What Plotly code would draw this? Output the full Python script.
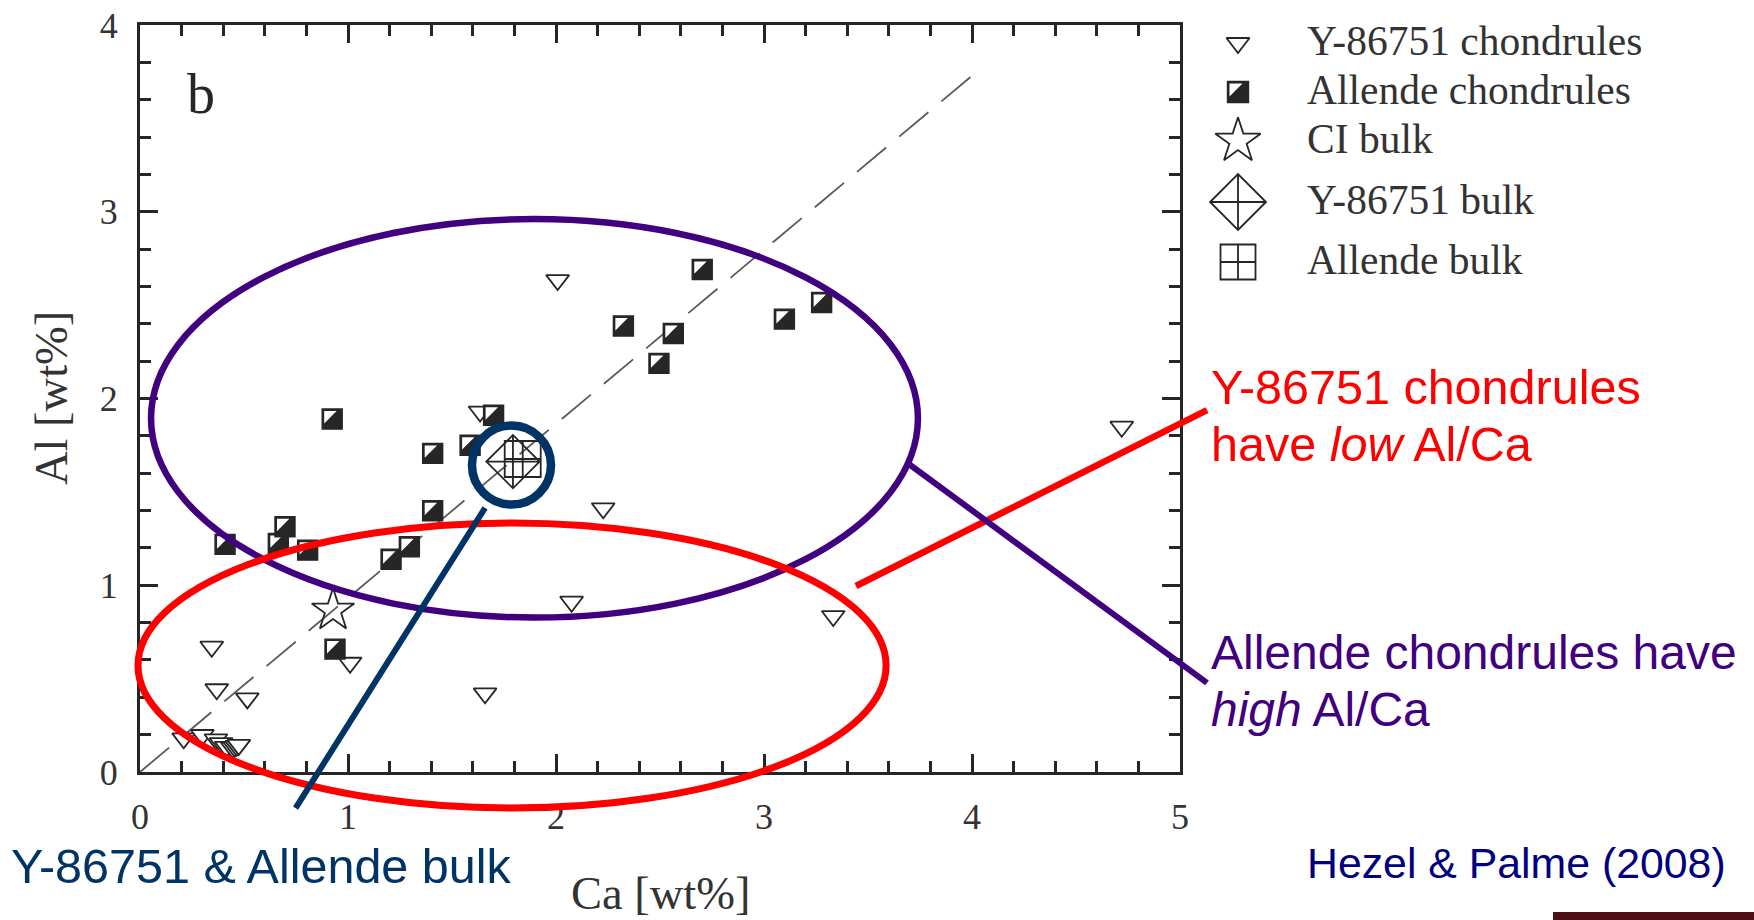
import plotly.graph_objects as go

# ---------------- data: Ca vs Al contents [wt%] ----------------
y86751_ca = [0.21, 0.30, 0.365, 0.39, 0.415, 0.445, 0.455, 0.465, 0.475,
             0.345, 0.369, 0.516, 1.01, 1.659, 2.075, 2.227, 1.635, 2.008,
             3.333, 4.72]
y86751_al = [0.18, 0.198, 0.175, 0.155, 0.135, 0.13, 0.135, 0.14, 0.145,
             0.671, 0.443, 0.394, 0.585, 0.421, 0.912, 1.412, 1.93, 2.634,
             0.835, 1.849]

allende_ca = [0.409, 0.665, 0.697, 0.806, 0.924, 0.9375, 1.207, 1.295, 1.407,
              1.407, 1.587, 1.70, 2.324, 2.495, 2.564, 2.703, 3.098, 3.277]
allende_al = [1.219, 1.224, 1.313, 1.188, 1.89, 0.658, 1.139, 1.206, 1.399,
              1.706, 1.75, 1.91, 2.388, 2.188, 2.348, 2.691, 2.425, 2.514]

ci_ca = [0.928]
ci_al = [0.865]
y86751_bulk_ca = [1.793]
y86751_bulk_al = [1.662]
allende_bulk_ca = [1.840]
allende_bulk_al = [1.676]

x_ticks = [0, 1, 2, 3, 4, 5]
y_ticks = [0, 1, 2, 3, 4]

legend_labels = ["Y-86751 chondrules", "Allende chondrules", "CI bulk",
                 "Y-86751 bulk", "Allende bulk"]

# ---------------- page geometry ----------------
W, H = 1754, 920
PLOT_L, PLOT_R, PLOT_T, PLOT_B = 140, 1180, 25, 772
X_RANGE = [0, 5]
Y_RANGE = [0, 4]
PX_X = (PLOT_R - PLOT_L) / (X_RANGE[1] - X_RANGE[0])
PX_Y = (PLOT_B - PLOT_T) / (Y_RANGE[1] - Y_RANGE[0])

INK = "#262626"
RED = "#ff0000"
PURPLE = "#40007f"
NAVY = "#003366"
CITE = "#000080"
SERIF = "Liberation Serif"
SANS = "Liberation Sans"


def data_to_paper(x, y):
    px = PLOT_L + (x - X_RANGE[0]) * PX_X
    py = PLOT_B - (y - Y_RANGE[0]) * PX_Y
    return px / W, 1 - py / H


def half_square_points(xs, ys, size, ux, uy):
    """Dark square with a white triangle in its upper-left corner.
    ux/uy: pixels per data unit (uy negative when the axis grows upward)."""
    leg = 0.62 * size              # white triangle leg length, px
    tri_size = leg / 0.9           # plotly right triangles have legs of 0.9*size
    inset = 2.0                    # keep the dark border visible
    shift = -(size / 2 - inset) + 0.3 * tri_size
    px, py, sym, sz, col, lw = [], [], [], [], [], []
    for x, y in zip(xs, ys):
        px += [x, x + shift / ux]
        py += [y, y + shift / uy]
        sym += ["square", "triangle-nw"]
        sz += [size, tri_size]
        col += [INK, "white"]
        lw += [1.4, 0]
    return px, py, dict(symbol=sym, size=sz, color=col, opacity=1,
                        line=dict(color=INK, width=lw))


fig = go.Figure()

# CI Al/Ca reference line through the origin
slope = ci_al[0] / ci_ca[0]
fig.add_trace(go.Scatter(x=[0, 4], y=[0, 4 * slope], mode="lines",
                         line=dict(color="#5a5a5a", width=1.8, dash="38px,17px"),
                         hoverinfo="skip"))

# Y-86751 chondrules
fig.add_trace(go.Scatter(x=y86751_ca, y=y86751_al, mode="markers",
                         marker=dict(symbol="triangle-down", size=20, color="white",
                                     line=dict(color=INK, width=1.8))))

# Allende chondrules (half-filled squares)
hx, hy, hmarker = half_square_points(allende_ca, allende_al, 20, PX_X, -PX_Y)
fig.add_trace(go.Scatter(x=hx, y=hy, mode="markers", marker=hmarker))

# bulk compositions
fig.add_trace(go.Scatter(x=ci_ca, y=ci_al, mode="markers",
                         marker=dict(symbol="star-open", size=32, color=INK,
                                     line=dict(width=1.8))))
fig.add_trace(go.Scatter(x=y86751_bulk_ca, y=y86751_bulk_al, mode="markers",
                         marker=dict(symbol="diamond-cross-open", size=41, color=INK,
                                     line=dict(width=1.8))))
fig.add_trace(go.Scatter(x=allende_bulk_ca, y=allende_bulk_al, mode="markers",
                         marker=dict(symbol="square-cross-open", size=36, color=INK,
                                     line=dict(width=1.8))))

# ---------------- key (drawn on a pixel-unit helper axis) ----------------
KEY_ROWS = [43, 92, 141, 202, 262]
KEY_SYMBOL_X = 1238
KEY_TEXT_X = 1305
kx = [KEY_SYMBOL_X] * 5
fig.add_trace(go.Scatter(x=[kx[0]], y=[KEY_ROWS[0]], xaxis="x2", yaxis="y2",
                         mode="markers",
                         marker=dict(symbol="triangle-down", size=20, color="white",
                                     line=dict(color=INK, width=1.8))))
kx2, ky2, kmarker = half_square_points([kx[1]], [KEY_ROWS[1]], 21, 1.0, 1.0)
fig.add_trace(go.Scatter(x=kx2, y=ky2, xaxis="x2", yaxis="y2", mode="markers",
                         marker=kmarker))
fig.add_trace(go.Scatter(x=[kx[2]], y=[KEY_ROWS[2]], xaxis="x2", yaxis="y2",
                         mode="markers",
                         marker=dict(symbol="star-open", size=34, color=INK,
                                     line=dict(width=1.8))))
fig.add_trace(go.Scatter(x=[kx[3]], y=[KEY_ROWS[3]], xaxis="x2", yaxis="y2",
                         mode="markers",
                         marker=dict(symbol="diamond-cross-open", size=43, color=INK,
                                     line=dict(width=1.8))))
fig.add_trace(go.Scatter(x=[kx[4]], y=[KEY_ROWS[4]], xaxis="x2", yaxis="y2",
                         mode="markers",
                         marker=dict(symbol="square-cross-open", size=35, color=INK,
                                     line=dict(width=1.8))))

annotations = []


def text_px(text, px, py, size, color, family, xanchor="left", angle=0):
    annotations.append(dict(text=text, x=px / W, y=1 - py / H, xref="paper",
                            yref="paper", showarrow=False, xanchor=xanchor,
                            yanchor="middle", textangle=angle,
                            font=dict(family=family, size=size, color=color)))


for label, row in zip(legend_labels, KEY_ROWS):
    text_px(label, KEY_TEXT_X, row - 2, 41.5, "#333333", SERIF)

# panel letter and axis titles
text_px("b", 201, 94, 56, INK, SERIF, xanchor="center")
text_px("Ca [wt%]", 660, 893, 46.5, "#333333", SERIF, xanchor="center")
text_px("Al [wt%]", 51, 398, 46.5, "#333333", SERIF, xanchor="center", angle=-90)

# callout texts
text_px("Y-86751 chondrules", 1209, 387, 48.5, RED, SANS)
text_px("have <i>low</i> Al/Ca", 1209, 444, 48.5, RED, SANS)
text_px("Allende chondrules have", 1209, 652, 48, PURPLE, SANS)
text_px("<i>high</i> Al/Ca", 1209, 709, 48, PURPLE, SANS)
text_px("Y-86751 &amp; Allende bulk", 9, 866, 48.5, NAVY, SANS)
text_px("Hezel &amp; Palme (2008)", 1305, 863, 42.8, CITE, SANS)

# ---------------- callout shapes (data units -> paper) ----------------
shapes = []


def ellipse(x0, y0, x1, y1, color, width):
    a0, b0 = data_to_paper(x0, y0)
    a1, b1 = data_to_paper(x1, y1)
    shapes.append(dict(type="circle", xref="paper", yref="paper", x0=a0, y0=b0,
                       x1=a1, y1=b1, line=dict(color=color, width=width),
                       fillcolor="rgba(0,0,0,0)", layer="above"))


def leader(x0, y0, x1, y1, color, width):
    a0, b0 = data_to_paper(x0, y0)
    a1, b1 = data_to_paper(x1, y1)
    shapes.append(dict(type="line", xref="paper", yref="paper", x0=a0, y0=b0,
                       x1=a1, y1=b1, line=dict(color=color, width=width),
                       layer="above"))


ellipse(0.053, 0.827, 3.740, 2.961, PURPLE, 6.5)
ellipse(-0.0096, -0.193, 3.587, 1.333, RED, 7)
ellipse(1.596, 1.432, 1.976, 1.855, NAVY, 8.5)
leader(1.659, 1.414, 0.748, -0.193, NAVY, 6)
leader(3.442, 0.996, 5.130, 1.938, RED, 6.5)
leader(3.683, 1.660, 5.130, 0.477, PURPLE, 6)

# slide footer fragment in the corner
shapes.append(dict(type="rect", xref="paper", yref="paper", x0=1553 / W, x1=1.0,
                   y0=0.0, y1=1 - 912 / H, line=dict(width=0),
                   fillcolor="#4d0d14", layer="above"))

axis_style = dict(showline=True, linewidth=3, linecolor=INK, mirror="ticks",
                  ticks="inside", ticklen=18, tickwidth=2.5, tickcolor=INK,
                  showgrid=False, zeroline=False, automargin=False,
                  tickfont=dict(family=SERIF, size=36, color="#333333"))

fig.update_layout(
    width=W, height=H,
    margin=dict(l=0, r=0, t=0, b=0, autoexpand=False),
    paper_bgcolor="white", plot_bgcolor="rgba(0,0,0,0)",
    showlegend=False,
    xaxis=dict(domain=[PLOT_L / W, PLOT_R / W], range=X_RANGE, tickvals=x_ticks,
               anchor="y", ticklabelstandoff=11,
               minor=dict(tickmode="linear", tick0=0, dtick=0.2, ticks="inside",
                          ticklen=11, tickwidth=2.5, tickcolor=INK),
               **axis_style),
    yaxis=dict(domain=[1 - PLOT_B / H, 1 - PLOT_T / H], range=Y_RANGE,
               tickvals=y_ticks, anchor="x", ticklabelstandoff=12,
               minor=dict(tickmode="linear", tick0=0, dtick=0.2, ticks="inside",
                          ticklen=11, tickwidth=2.5, tickcolor=INK),
               **axis_style),
    xaxis2=dict(domain=[0, 1], range=[0, W], visible=False, anchor="y2",
                automargin=False),
    yaxis2=dict(domain=[0, 1], range=[H, 0], visible=False, anchor="x2",
                automargin=False),
    annotations=annotations,
    shapes=shapes,
)

fig.write_html("out.html")
